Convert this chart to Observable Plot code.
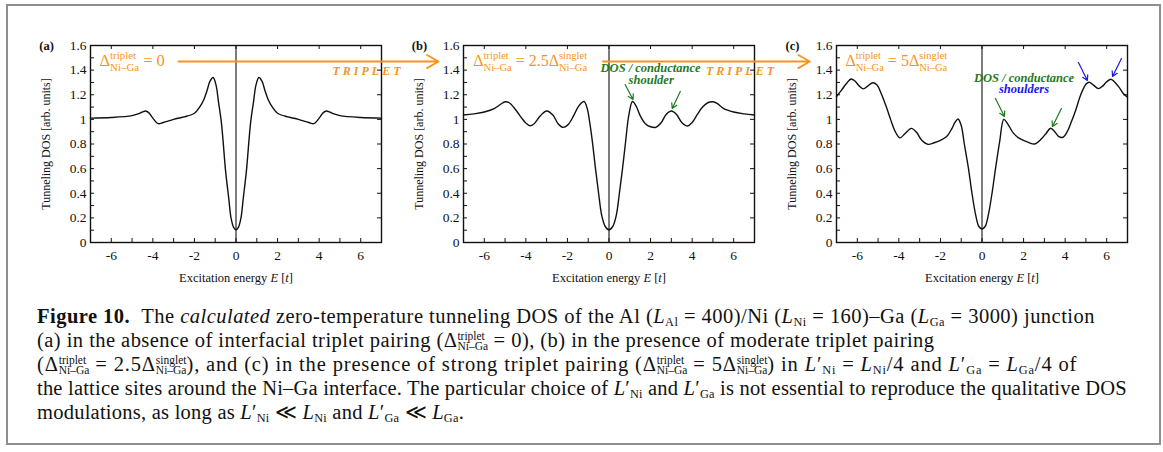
<!DOCTYPE html>
<html><head><meta charset="utf-8">
<script src="https://cdn.jsdelivr.net/npm/d3@7"></script>
<script src="https://cdn.jsdelivr.net/npm/@observablehq/plot@0.6"></script>
<style>
body{margin:0;background:#fff;}
#wrap{position:relative;width:1163px;height:452px;overflow:hidden;font-family:"Liberation Serif","Times New Roman",serif;background:#fff;}
#wrap svg text{font-family:"Liberation Serif","Times New Roman",serif;}
#wrap svg g[aria-label$="tick label"]{font-size:13.5px;}
#box{position:absolute;left:6px;top:4px;width:1151px;height:437px;border:2px solid #8e8e8e;}
.cap{position:absolute;left:37px;white-space:nowrap;font-size:20.5px;line-height:24px;color:#111;}
.cap sub{font-size:0.6em;vertical-align:-0.22em;line-height:0}
.ss{display:inline-flex;flex-direction:column;font-size:0.56em;line-height:0.85;vertical-align:0.6em;text-align:left;letter-spacing:0}
.ss span{line-height:0.85}
</style></head><body>
<div id="wrap"><div id="box"></div>
<div class="cap" data-w="1058" style="top:304px"><b>Figure 10.</b>&nbsp;&nbsp;The <i>calculated</i> zero-temperature tunneling DOS of the Al (<i>L</i><sub>Al</sub> = 400)/Ni (<i>L</i><sub>Ni</sub> = 160)–Ga (<i>L</i><sub>Ga</sub> = 3000) junction</div>
<div class="cap" data-w="903" style="top:328px">(a) in the absence of interfacial triplet pairing (Δ<span class="ss"><span>triplet</span><span>Ni–Ga</span></span> = 0), (b) in the presence of moderate triplet pairing</div>
<div class="cap" data-w="1081" style="top:352px">(Δ<span class="ss"><span>triplet</span><span>Ni–Ga</span></span> = 2.5Δ<span class="ss"><span>singlet</span><span>Ni–Ga</span></span>), and (c) in the presence of strong triplet pairing (Δ<span class="ss"><span>triplet</span><span>Ni–Ga</span></span> = 5Δ<span class="ss"><span>singlet</span><span>Ni–Ga</span></span>) in <i>L</i>′<sub>Ni</sub> = <i>L</i><sub>Ni</sub>/4 and <i>L</i>′<sub>Ga</sub> = <i>L</i><sub>Ga</sub>/4 of</div>
<div class="cap" data-w="1090" style="top:376px">the lattice sites around the Ni–Ga interface. The particular choice of <i>L</i>′<sub>Ni</sub> and <i>L</i>′<sub>Ga</sub> is not essential to reproduce the qualitative DOS</div>
<div class="cap" data-w="427" style="top:400px">modulations, as long as <i>L</i>′<sub>Ni</sub> ≪ <i>L</i><sub>Ni</sub> and <i>L</i>′<sub>Ga</sub> ≪ <i>L</i><sub>Ga</sub>.</div>
</div>
<script>
// ---------------- data ----------------
const energyA = [-7,-6,-5,-4.7,-4.5,-4.35,-4.2,-4.0,-3.75,-3.5,-3.0,-2.5,-2.0,-1.75,-1.55,-1.4,-1.25,-1.1,-0.95,-0.85,-0.7,-0.5,-0.35,-0.24,-0.12,0,0.12,0.24,0.35,0.5,0.7,0.85,0.95,1.1,1.25,1.4,1.55,1.75,2.0,2.5,3.0,3.5,3.75,4.0,4.2,4.35,4.5,4.7,5,6,7];
const dosA = [1.01,1.015,1.03,1.045,1.06,1.068,1.055,1.01,0.965,0.975,1.0,1.02,1.05,1.1,1.16,1.23,1.31,1.34,1.27,1.15,0.97,0.58,0.36,0.2,0.125,0.103,0.125,0.2,0.36,0.58,0.97,1.15,1.27,1.34,1.31,1.23,1.16,1.1,1.05,1.02,1.0,0.975,0.965,1.01,1.055,1.068,1.06,1.045,1.03,1.015,1.01];

const energyB = [-7,-6.5,-6,-5.5,-5.2,-5.0,-4.8,-4.5,-4.2,-4.0,-3.8,-3.6,-3.3,-3.0,-2.7,-2.45,-2.2,-1.95,-1.7,-1.45,-1.2,-1.05,-0.95,-0.8,-0.65,-0.5,-0.35,-0.18,0,0.18,0.35,0.5,0.65,0.8,0.95,1.13,1.3,1.5,1.75,2.0,2.25,2.5,2.75,3.0,3.25,3.5,3.78,4.0,4.25,4.5,4.75,5.0,5.2,5.5,6.0,6.5,7];
const dosB = [1.035,1.045,1.06,1.09,1.125,1.143,1.135,1.08,1.01,0.97,0.948,0.965,1.03,1.068,1.035,0.965,0.935,0.96,1.03,1.11,1.145,1.09,1.0,0.82,0.6,0.4,0.22,0.13,0.103,0.13,0.22,0.4,0.6,0.82,1.03,1.145,1.11,1.03,0.965,0.94,0.935,0.97,1.04,1.068,1.04,0.975,0.946,0.975,1.04,1.1,1.135,1.143,1.13,1.09,1.06,1.045,1.035];

const energyC = [-7,-6.75,-6.5,-6.3,-6.1,-5.9,-5.7,-5.5,-5.25,-5.05,-4.85,-4.6,-4.4,-4.2,-3.95,-3.7,-3.4,-3.15,-2.9,-2.6,-2.3,-2.0,-1.7,-1.45,-1.3,-1.15,-1.0,-0.85,-0.65,-0.5,-0.3,-0.15,0,0.15,0.3,0.5,0.65,0.85,1.05,1.25,1.5,1.8,2.2,2.55,2.85,3.1,3.3,3.5,3.7,3.9,4.1,4.3,4.5,4.75,5.0,5.15,5.35,5.6,5.8,6.0,6.2,6.4,6.6,6.8,7.0];
const dosC = [1.185,1.24,1.295,1.328,1.31,1.27,1.248,1.27,1.298,1.28,1.21,1.10,1.0,0.91,0.85,0.885,0.927,0.895,0.83,0.797,0.81,0.83,0.86,0.925,0.975,1.003,0.95,0.8,0.6,0.42,0.22,0.13,0.11,0.13,0.22,0.42,0.6,0.82,1.0,0.96,0.89,0.845,0.815,0.8,0.84,0.89,0.928,0.9,0.86,0.855,0.9,0.98,1.07,1.2,1.285,1.302,1.28,1.25,1.27,1.305,1.326,1.3,1.26,1.21,1.18];

const xTickLabels = [-6,-4,-2,0,2,4,6];
const xMinorTicks = [-6,-5,-4,-3,-2,-1,0,1,2,3,4,5,6];
const yTickLabels = [0,0.2,0.4,0.6,0.8,1,1.2,1.4,1.6];
const yMinorTicks = [0.1,0.2,0.3,0.4,0.5,0.6,0.7,0.8,0.9,1,1.1,1.2,1.3,1.4,1.5];

const panelLabels = ["(a)","(b)","(c)"];
const yLabel = "Tunneling DOS [arb. units]";

// ---------------- styling ----------------
const ORANGE = "#f7941d", GREEN = "#1f7a1f", BLUE = "#1818f0";
const FW = 291, FH = 197;

function panel(E, D, label, extra) {
  const data = E.map((e, i) => ({e, d: D[i]}));
  return Plot.plot({
    width: 361, height: 253,
    marginLeft: 60, marginRight: 10, marginTop: 11, marginBottom: 45,
    x: {domain: [-7, 7]},
    y: {domain: [0, 1.6]},
    style: {background: "transparent", overflow: "visible", fontFamily: "'Liberation Serif', 'Times New Roman', serif", fontSize: "13px", color: "#111"},
    marks: [
      Plot.axisX({ticks: xTickLabels, tickSize: 0, tickPadding: 8, tickFormat: d => String(d), label: null}),
      Plot.axisY({ticks: yTickLabels, tickSize: 0, tickPadding: 4, tickFormat: d => String(d), label: null}),
      Plot.tickX(xMinorTicks, {x: d => d, insetTop: FH - 4, stroke: "#111"}),
      Plot.tickX(xTickLabels, {x: d => d, insetBottom: FH - 4, stroke: "#111"}),
      Plot.tickY(yMinorTicks, {y: d => d, insetRight: FW - 4, stroke: "#111"}),
      Plot.tickY(yTickLabels, {y: d => d, insetLeft: FW - 4, stroke: "#111"}),
      Plot.ruleX([0], {stroke: "#111", strokeWidth: 1.1}),
      Plot.frame({stroke: "#111", strokeWidth: 1.4}),
      Plot.line(data, {x: "e", y: "d", curve: "catmull-rom", stroke: "#111", strokeWidth: 1.4}),
      Plot.text([yLabel], {text: d => d, frameAnchor: "left", dx: -44, rotate: -90, textAnchor: "middle", lineAnchor: "middle", fontSize: 12}),
      Plot.text(["@xlabel"], {text: d => d, frameAnchor: "bottom", dy: 39, fontSize: 12.5}),
      Plot.text([label], {text: d => d, frameAnchor: "top-left", dx: -44, dy: 0, textAnchor: "middle", lineAnchor: "middle", fontWeight: "bold", fontSize: 12.5}),
      ...extra
    ]
  });
}

const tripletText = (x) => Plot.text(["TRIPLET"], {text: d => d, x, y: 1.389, fill: ORANGE, fontWeight: "bold", fontStyle: "italic", fontSize: 12});

const svgA = panel(energyA, dosA, panelLabels[0], [
  Plot.arrow([0], {x1: -2.77, y1: 1.47, x2: 9.74, y2: 1.47, stroke: ORANGE, strokeWidth: 1.8, headLength: 11}),
  Plot.text(["@annA"], {text: d => d, x: -6.57, y: 1.43, textAnchor: "start", fill: ORANGE, fontSize: 16.5}),
  tripletText(6.35)
]);
const svgB = panel(energyB, dosB, panelLabels[1], [
  Plot.arrow([0], {x1: -0.29, y1: 1.47, x2: 9.66, y2: 1.47, stroke: ORANGE, strokeWidth: 1.8, headLength: 11}),
  Plot.text(["@annB"], {text: d => d, x: -6.53, y: 1.43, textAnchor: "start", fill: ORANGE, fontSize: 16}),
  tripletText(6.375),
  Plot.text(["DOS / conductance"], {text: d => d, x: 2.0, y: 1.42, fill: GREEN, fontWeight: "bold", fontStyle: "italic", fontSize: 12.5}),
  Plot.text(["shoulder"], {text: d => d, x: 2.03, y: 1.316, fill: GREEN, fontWeight: "bold", fontStyle: "italic", fontSize: 12.5}),
  Plot.arrow([0], {x1: 0.774, y1: 1.283, x2: 1.16, y2: 1.162, stroke: GREEN, strokeWidth: 1.2, headLength: 7}),
  Plot.arrow([0], {x1: 3.43, y1: 1.227, x2: 3.04, y2: 1.089, stroke: GREEN, strokeWidth: 1.2, headLength: 7})
]);
const svgC = panel(energyC, dosC, panelLabels[2], [
  Plot.text(["@annC"], {text: d => d, x: -6.57, y: 1.43, textAnchor: "start", fill: ORANGE, fontSize: 16}),
  Plot.text(["DOS / conductance"], {text: d => d, x: 2.02, y: 1.34, fill: GREEN, fontWeight: "bold", fontStyle: "italic", fontSize: 12.5}),
  Plot.text(["shoulders"], {text: d => d, x: 2.02, y: 1.243, fill: BLUE, fontWeight: "bold", fontStyle: "italic", fontSize: 12.5}),
  Plot.arrow([0], {x1: 0.648, y1: 1.17, x2: 1.08, y2: 1.024, stroke: GREEN, strokeWidth: 1.2, headLength: 7}),
  Plot.arrow([0], {x1: 3.82, y1: 1.089, x2: 3.39, y2: 0.942, stroke: GREEN, strokeWidth: 1.2, headLength: 7}),
  Plot.arrow([0], {x1: 4.64, y1: 1.462, x2: 5.07, y2: 1.316, stroke: BLUE, strokeWidth: 1.2, headLength: 7}),
  Plot.arrow([0], {x1: 6.71, y1: 1.495, x2: 6.28, y2: 1.349, stroke: BLUE, strokeWidth: 1.2, headLength: 7})
]);

const wrap = document.getElementById("wrap");
[[svgA, 30], [svgB, 403], [svgC, 776]].forEach(([svg, left]) => {
  svg.style.position = "absolute";
  svg.style.left = left + "px";
  svg.style.top = "34px";
  wrap.appendChild(svg);
});

// ---------- rich text (sub/superscripts, italics) ----------
const richMap = {
  "@xlabel": {align: "middle", segs: [{t: "Excitation energy "}, {t: "E", i: true}, {t: " ["}, {t: "t", i: true}, {t: "]"}]},
  "@annA": {align: "start", segs: [{t: "Δ"}, {sup: "triplet", sub: "Ni–Ga"}, {t: " = 0"}]},
  "@annB": {align: "start", segs: [{t: "Δ"}, {sup: "triplet", sub: "Ni–Ga"}, {t: " = 2.5Δ"}, {sup: "singlet", sub: "Ni–Ga"}]},
  "@annC": {align: "start", segs: [{t: "Δ"}, {sup: "triplet", sub: "Ni–Ga"}, {t: " = 5Δ"}, {sup: "singlet", sub: "Ni–Ga"}]}
};
const NS = "http://www.w3.org/2000/svg";
function richify(svg) {
  svg.querySelectorAll("text").forEach(el => {
    const key = el.textContent;
    if (key === "TRIPLET") { el.setAttribute("letter-spacing", "3px"); return; }
    if (!(key in richMap)) return;
    const {segs, align} = richMap[key];
    const fs = parseFloat(getComputedStyle(el).fontSize) || 13;
    const xa = el.getAttribute("x"), ya = el.getAttribute("y");
    const ox = xa && !/em$/.test(xa) ? parseFloat(xa) : 0;
    const oy = ya && !/em$/.test(ya) ? parseFloat(ya) : 0;
    el.removeAttribute("dy");
    el.textContent = "";
    el.setAttribute("text-anchor", "start");
    let x = 0; const spans = [];
    const mk = (txt, dy, size, italic) => {
      const t = document.createElementNS(NS, "tspan");
      t.textContent = txt;
      t.setAttribute("x", ox + x);
      t.setAttribute("y", oy + dy);
      t.style.whiteSpace = "pre";
      if (size) t.setAttribute("font-size", size);
      if (italic) t.setAttribute("font-style", "italic");
      el.appendChild(t);
      spans.push([t, x]);
      return t;
    };
    for (const s of segs) {
      if (s.sup != null || s.sub != null) {
        let w = 0;
        if (s.sup) w = Math.max(w, mk(s.sup, -fs * 0.45, fs * 0.66).getComputedTextLength());
        if (s.sub) w = Math.max(w, mk(s.sub, fs * 0.3, fs * 0.66).getComputedTextLength());
        x += w;
      } else {
        x += mk(s.t, 0, null, s.i).getComputedTextLength();
      }
    }
    const shift = align === "middle" ? -x / 2 : align === "end" ? -x : 0;
    for (const [t, x0] of spans) t.setAttribute("x", ox + x0 + shift);
  });
}
[svgA, svgB, svgC].forEach(richify);

// fit caption lines to the reference line lengths
document.querySelectorAll(".cap").forEach(div => {
  const target = +div.dataset.w;
  const w = div.getBoundingClientRect().width;
  const n = div.textContent.length;
  const ls = (target - w) / n;
  div.style.letterSpacing = ls.toFixed(3) + "px";
});
</script>
</body></html>
